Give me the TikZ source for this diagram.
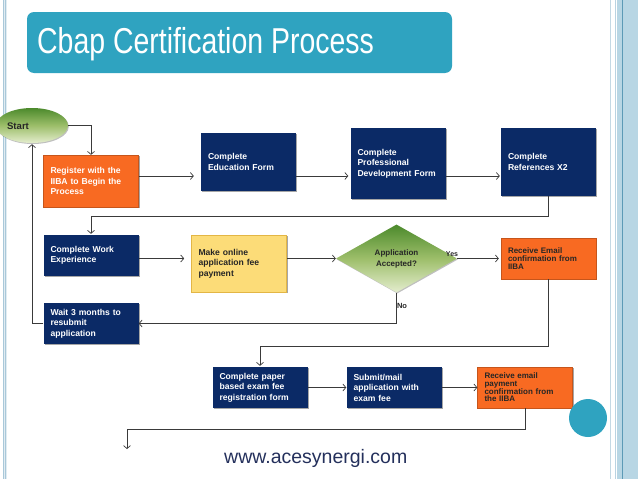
\documentclass[tikz,border=0pt]{standalone}
\usepackage{fontspec}
\usepackage{graphicx}
\setmainfont{Liberation Sans}
\usetikzlibrary{shapes.geometric,shadows,arrows.meta}
\definecolor{navy}{HTML}{0B2A66}
\definecolor{orangebox}{HTML}{F86A22}
\definecolor{yellowbox}{HTML}{FCDC78}
\definecolor{yellowedge}{HTML}{E3B645}
\definecolor{teal}{HTML}{2FA3C0}
\definecolor{bordlight}{HTML}{A9C8D9}
\definecolor{bordband}{HTML}{B8D6E4}
\definecolor{borddark}{HTML}{5C9AB6}
\definecolor{linecol}{HTML}{3A3A3A}
\definecolor{webcol}{HTML}{24305C}
\definecolor{gtop}{HTML}{4C8A2C}
\definecolor{gmid}{HTML}{9DBE6A}
\definecolor{gbot}{HTML}{E4EDCE}
\tikzset{
  box/.style={rectangle, inner xsep=7pt, inner ysep=0pt, minimum width=95pt,
    text width=81pt, align=left,
    font=\fontsize{8.6}{10.5}\selectfont\bfseries,
    drop shadow={shadow xshift=1.2pt, shadow yshift=-1.2pt, fill=black, opacity=0.35}},
  navybox/.style={box, fill=navy, text=white},
  orangewhite/.style={box, fill=orangebox, draw=orangebox!80!black, line width=0.3pt, text=white},
  orangedark/.style={box, fill=orangebox, draw=orangebox!80!black, line width=0.3pt, text=black!85,
    font=\fontsize{8}{8}\selectfont\bfseries},
  yellowbx/.style={box, fill=yellowbox, draw=yellowedge, line width=0.6pt, text=black!85},
  arr/.style={draw=linecol, line width=0.7pt, -{Straight Barb[length=3pt,width=7pt]}},
  small/.style={font=\fontsize{7}{8}\selectfont\bfseries, text=black!85, inner sep=0pt},
}
\begin{document}
\begin{tikzpicture}[x=1pt,y=-1pt]
\useasboundingbox (0,0) rectangle (638,479);
\fill[white] (0,0) rectangle (638,479);
% borders
\fill[bordlight!35] (2.5,0) rectangle (6.5,479);
\draw[bordlight, line width=1pt] (3,0) -- (3,479);
\draw[bordlight, line width=1pt] (5.8,0) -- (5.8,479);
\draw[bordlight!70, line width=1.2pt] (610.8,0) -- (610.8,479);
\draw[bordlight!80, line width=1pt] (615.5,0) -- (615.5,479);
\fill[bordband] (617,0) rectangle (638,479);
\draw[borddark, line width=1pt] (622.5,0) -- (622.5,479);
% title
\node[rectangle, rounded corners=7pt, fill=teal, minimum width=425pt, minimum height=61pt, inner sep=0pt] (title) at (239.5,42.5) {};
\node[anchor=base west, text=white, inner sep=0pt] (titletext) at (37,53)
  {\scalebox{0.79}[1]{\fontsize{36}{36}\selectfont Cbap Certification Process}};
% start
\node[ellipse, minimum width=72pt, minimum height=35pt, inner sep=0pt,
  top color=gtop, bottom color=gbot, middle color=gmid,
  drop shadow={shadow xshift=0.8pt, shadow yshift=-1pt, fill=black, opacity=0.25}] (start) at (32,125.5) {};
\node[small, font=\fontsize{9.6}{10}\selectfont\bfseries] (starttext) at (18,126) {Start};
% boxes row 1
\node[orangewhite, minimum height=52pt] (register) at (91,181) {Register with the\\IIBA to Begin the\\Process};
\node[navybox, minimum height=58pt] (edu) at (248.5,162) {Complete\\Education Form};
\node[navybox, minimum height=71pt] (prof) at (398,163.5) {Complete\\Professional\\Development Form};
\node[navybox, minimum height=68pt] (refs) at (548.5,162) {Complete\\References X2};
% row 2
\node[navybox, minimum height=41pt] (work) at (91,255.5) {Complete Work\\Experience};
\node[yellowbx, minimum height=57pt] (make) at (239,263.5) {Make online\\application fee\\payment};
\node[diamond, minimum width=121pt, minimum height=68pt, inner sep=0pt, align=center,
  top color=gtop, bottom color=gbot, middle color=gmid,
  font=\fontsize{8}{11}\selectfont\bfseries, text=black!85,
  drop shadow={shadow xshift=0.8pt, shadow yshift=-1pt, fill=black, opacity=0.25}] (dia) at (396.5,258.5) {Application\\Accepted?};
\node[orangedark, minimum height=41pt] (email) at (548.5,258.5) {Receive Email\\confirmation from\\IIBA};
% row 3
\node[navybox, minimum height=41pt] (wait) at (91,323.5) {Wait 3 months to\\resubmit\\application};
% row 4
\node[navybox, minimum height=41pt] (paper) at (260,387.5) {Complete paper\\based exam fee\\registration form};
\node[navybox, minimum height=41pt] (submit) at (394,387.5) {Submit/mail\\application with\\exam fee};
\node[orangedark, minimum height=41pt, font=\fontsize{8}{7.7}\selectfont\bfseries] (payment) at (525,387.5) {Receive email\\payment\\confirmation from\\the IIBA};
% connectors
\coordinate (r1) at (0,176);
\coordinate (j1) at (0,216);
\coordinate (j2) at (0,346);
\coordinate (j3) at (0,429);
\coordinate (endpt) at (127,449);
\draw[arr] (start.east) -| (register.north);
\draw[arr, shorten >=7pt] (register.east |- r1) -- (edu.west |- r1);
\draw[arr, shorten >=2pt] (edu.east |- r1) -- (prof.west |- r1);
\draw[arr, shorten >=1pt] (prof.east |- r1) -- (refs.west |- r1);
\draw[arr, shorten >=1pt] (refs.south) -- (refs.south |- j1) -| (work.north);
\draw[arr, shorten >=7pt] (work.east |- dia.west) -- (make.west |- dia.west);
\draw[arr] (make.east |- dia.west) -- (dia.west);
\draw[arr, shorten >=2pt] (dia.east) -- (email.west |- dia.east);
\node[small] (yes) at (452,254) {Yes};
\draw[arr] (dia.south) |- (wait.east);
\node[small, font=\fontsize{7.5}{8}\selectfont\bfseries] (no) at (402,305.5) {No};
\draw[arr, shorten >=1pt] (wait.west) -| (start.south);
\draw[arr, shorten >=1pt] (email.south) -- (email.south |- j2) -| (paper.north);
\draw[arr] (paper.east) -- (submit.west);
\draw[arr] (submit.east) -- (payment.west);
\draw[arr] (payment.south) -- (payment.south |- j3) -| (endpt);
% circle
\node[circle, fill=teal, minimum size=38pt, inner sep=0pt] (dot) at (588,418) {};
% website
\node[anchor=base west, text=webcol, inner sep=0pt, font=\fontsize{19.5}{20}\selectfont] (web) at (224,463) {www.acesynergi.com};
\end{tikzpicture}
\end{document}
